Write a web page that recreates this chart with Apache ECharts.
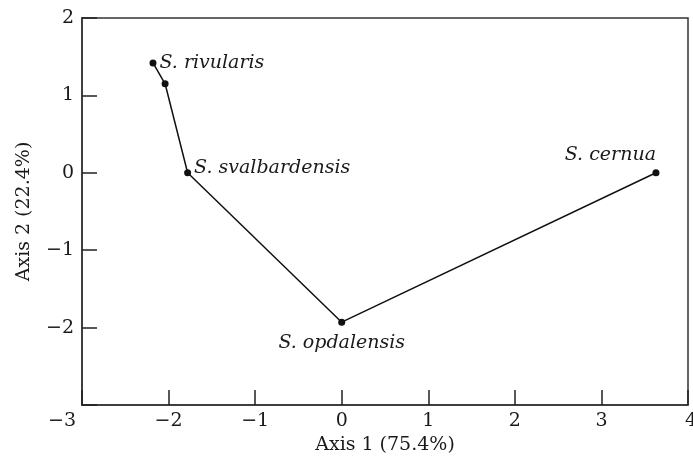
<!DOCTYPE html>
<html>
<head>
<meta charset="utf-8">
<script src="https://cdn.jsdelivr.net/npm/echarts@6/dist/echarts.min.js"></script>
<style>html,body{margin:0;padding:0;background:#fff;}#c{width:693px;height:465px;}</style>
</head>
<body>
<div id="c"></div>
<script>
// Data
var speciesNames = ['S. rivularis', '', 'S. svalbardensis', 'S. opdalensis', 'S. cernua'];
var axis1Values = [-2.18, -2.04, -1.78, 0.0, 3.63];
var axis2Values = [1.42, 1.15, 0.0, -1.93, 0.0];
var xTicks = [-3, -2, -1, 0, 1, 2, 3, 4];
var yTicks = [-3, -2, -1, 0, 1, 2];
var xTitle = 'Axis 1 (75.4%)';
var yTitle = 'Axis 2 (22.4%)';

var FONT = 'DejaVu Serif';
var FS = 19;
var TXT = '#1a1a1a';
var labelStyles = {
  'S. rivularis': {position: 'right', distance: 3},
  'S. svalbardensis': {position: 'right', distance: 3, offset: [0, -5]},
  'S. opdalensis': {position: 'bottom', distance: 8},
  'S. cernua': {position: [3.5, -5], align: 'right', verticalAlign: 'bottom'}
};

function fmtNum(v) {
  return (v < 0 ? '\u2212' + Math.abs(v) : String(v));
}

var seriesData = axis1Values.map(function (x, i) {
  var name = speciesNames[i];
  var item = {value: [x, axis2Values[i]], name: name};
  if (name) {
    item.label = Object.assign({show: true, formatter: name}, labelStyles[name]);
  } else {
    item.label = {show: false};
  }
  return item;
});

var chart = echarts.init(document.getElementById('c'), null, {renderer: 'canvas'});
chart.setOption({
  animation: false,
  backgroundColor: '#fff',
  grid: {left: 82, right: 5, top: 18, bottom: 60, containLabel: false, outerBoundsMode: 'none',
         show: true, borderColor: '#333', borderWidth: 1.5, backgroundColor: 'transparent'},
  xAxis: {
    type: 'value', min: xTicks[0], max: xTicks[xTicks.length - 1], interval: 1,
    name: xTitle, nameLocation: 'middle', nameGap: 31,
    nameTextStyle: {fontFamily: FONT, fontSize: FS, color: TXT},
    axisLine: {show: true, onZero: false, lineStyle: {color: '#333', width: 1.5}},
    axisTick: {show: true, inside: true, length: 15, lineStyle: {color: '#222', width: 1.5}},
    splitLine: {show: false},
    axisLabel: {
      fontFamily: FONT, fontSize: FS, color: TXT, margin: 7, hideOverlap: false,
      formatter: function (v) {
        if (v === xTicks[0]) return '{a|' + fmtNum(v) + '}';
        if (v === xTicks[xTicks.length - 1]) return '{b|' + fmtNum(v) + '}';
        return fmtNum(v);
      },
      rich: {
        a: {fontFamily: FONT, fontSize: FS, color: TXT, padding: [0, 40, 0, 0]},
        b: {fontFamily: FONT, fontSize: FS, color: TXT, padding: [0, 0, 0, 6]}
      }
    }
  },
  yAxis: {
    type: 'value', min: yTicks[0], max: yTicks[yTicks.length - 1], interval: 1,
    name: yTitle, nameLocation: 'middle', nameGap: 48,
    nameTextStyle: {fontFamily: FONT, fontSize: FS, color: TXT},
    axisLine: {show: true, onZero: false, lineStyle: {color: '#333', width: 1.5}},
    axisTick: {show: true, inside: true, length: 15, lineStyle: {color: '#222', width: 1.5}},
    splitLine: {show: false},
    axisLabel: {
      fontFamily: FONT, fontSize: FS, color: TXT, margin: 8,
      formatter: function (v) { return v === yTicks[0] ? '' : fmtNum(v); }
    }
  },
  series: [{
    type: 'line',
    data: seriesData,
    symbol: 'circle',
    symbolSize: 7,
    itemStyle: {color: '#111'},
    lineStyle: {color: '#111', width: 1.5},
    label: {fontFamily: FONT, fontStyle: 'italic', fontSize: FS, color: TXT},
    emphasis: {disabled: true}
  }]
});
</script>
</body>
</html>
